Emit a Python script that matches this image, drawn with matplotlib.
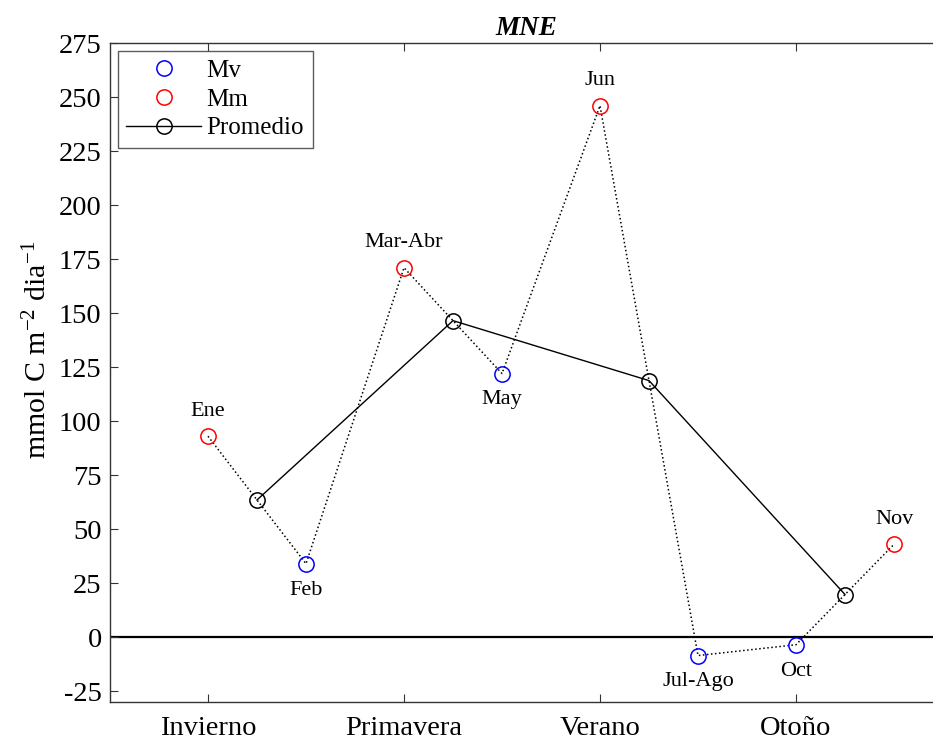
import matplotlib
matplotlib.use("Agg")
import matplotlib.pyplot as plt
import numpy as np

plt.rcParams['font.family'] = ['Liberation Serif', 'DejaVu Serif']
plt.rcParams['mathtext.default'] = 'regular'
plt.rcParams['axes.unicode_minus'] = False

# Seasons and monthly campaigns
seasons = ['Invierno', 'Primavera', 'Verano', 'Otoño']
months = ['Ene', 'Feb', 'Mar-Abr', 'May', 'Jun', 'Jul-Ago', 'Oct', 'Nov']
month_pos = [1.0, 1.5, 2.0, 2.5, 3.0, 3.5, 4.0, 4.5]
month_vals = [93, 34, 171, 122, 246, -8.5, -3.5, 43]
month_type = ['Mm', 'Mv', 'Mm', 'Mv', 'Mm', 'Mv', 'Mv', 'Mm']
label_above = [True, False, True, False, True, False, False, True]

avg_pos = [1.25, 2.25, 3.25, 4.25]
avg_vals = [63.5, 146.5, 118.75, 19.75]

fig = plt.figure(figsize=(9.33, 7.45), dpi=100)
W, H = 933, 745
x0, x1 = 110, 110 + 4.25 * 196
y0, y1 = 43, 702
ax = fig.add_axes([x0 / W, 1 - y1 / H, (x1 - x0) / W, (y1 - y0) / H])

ax.axhline(0, color='black', lw=1.6, zorder=1)
ax.plot(month_pos, month_vals, ls=':', color='black', lw=1.1, zorder=2)
ax.plot(avg_pos, avg_vals, '-o', color='black', lw=1.0, ms=11, mfc='none',
        mew=1.1, label='Promedio', zorder=3)

mv_x = [p for p, t in zip(month_pos, month_type) if t == 'Mv']
mv_y = [v for v, t in zip(month_vals, month_type) if t == 'Mv']
mm_x = [p for p, t in zip(month_pos, month_type) if t == 'Mm']
mm_y = [v for v, t in zip(month_vals, month_type) if t == 'Mm']
ax.plot(mv_x, mv_y, 'o', color='blue', ms=11, mfc='none', mew=1.1,
        label='Mv', zorder=4)
ax.plot(mm_x, mm_y, 'o', color='red', ms=11, mfc='none', mew=1.1,
        label='Mm', zorder=4)

for name, xp, yv, up in zip(months, month_pos, month_vals, label_above):
    ax.annotate(name, (xp, yv), xytext=(0, 18 if up else -19),
                textcoords='offset points', ha='center', va='center',
                fontsize=16)

ax.set_xlim(0.5, 4.75)
ax.set_ylim(-30, 275)
ax.set_xticks([1, 2, 3, 4])
ax.set_xticklabels(seasons, fontsize=20.5)
ax.set_yticks(np.arange(-25, 276, 25))
ax.tick_params(axis='both', direction='in', labelsize=20.5, length=6,
               top=True, right=True, width=0.8, color='#333333', pad=6)
ax.tick_params(axis='x', pad=10)
for s in ax.spines.values():
    s.set_color('#333333')
    s.set_linewidth(1.0)

ax.set_ylabel('mmol C m$^{-2}$ dia$^{-1}$', fontsize=21.5)
ax.yaxis.set_label_coords(-0.069, 0.535)
ax.set_title('MNE', fontsize=19.5, fontweight='bold', style='italic', pad=6)

handles, labels = ax.get_legend_handles_labels()
order = [labels.index('Mv'), labels.index('Mm'), labels.index('Promedio')]
leg = ax.legend([handles[i] for i in order], [labels[i] for i in order],
                loc='upper left', fontsize=18, frameon=True, fancybox=False,
                edgecolor='#333333', handlelength=3.0, borderaxespad=0.3,
                labelspacing=0.25, handletextpad=0.2, borderpad=0.35)
leg.get_frame().set_linewidth(1.0)

fig.savefig('out.png', dpi=100, facecolor='white')
